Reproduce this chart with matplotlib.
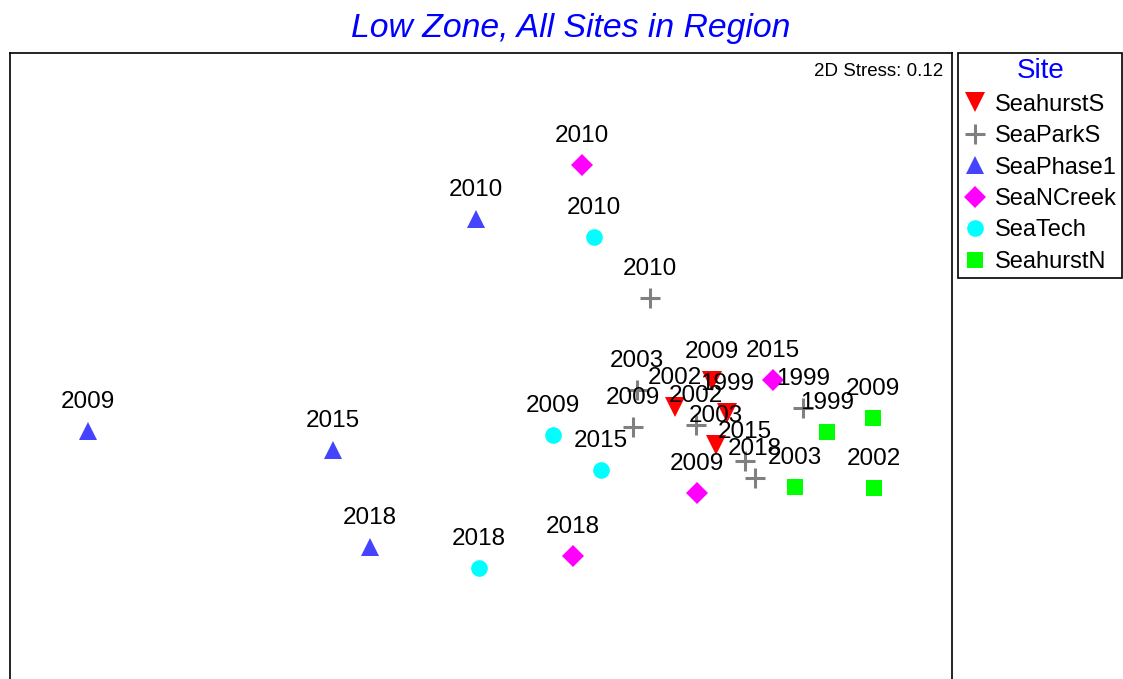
#!/usr/bin/env python3
"""nMDS ordination plot: Low Zone, all sites in region."""

import matplotlib
matplotlib.use("Agg")
import matplotlib.pyplot as plt
from matplotlib.lines import Line2D

plt.rcParams['font.family'] = ['Liberation Sans', 'DejaVu Sans']

W, H = 1123, 679

# MDS coordinates, one set per site
sites = ['SeahurstS', 'SeaParkS', 'SeaPhase1', 'SeaNCreek', 'SeaTech', 'SeahurstN']

seahursts_years = ['1999', '2002', '2003', '2009']
seahursts_x = [1.135, 0.875, 1.080, 1.060]
seahursts_y = [0.035, 0.065, -0.125, 0.195]

seaparks_years = ['1999', '2002', '2003', '2009', '2010', '2015', '2018']
seaparks_x = [1.515, 0.980, 0.685, 0.665, 0.750, 1.225, 1.275]
seaparks_y = [0.060, -0.025, 0.150, -0.035, 0.610, -0.205, -0.290]

seaphase1_years = ['2009', '2010', '2015', '2018']
seaphase1_x = [-2.060, -0.120, -0.835, -0.650]
seaphase1_y = [-0.055, 1.005, -0.150, -0.635]

seancreek_years = ['2009', '2010', '2015', '2018']
seancreek_x = [0.985, 0.410, 1.365, 0.365]
seancreek_y = [-0.365, 1.275, 0.200, -0.680]

seatech_years = ['2009', '2010', '2015', '2018']
seatech_x = [0.265, 0.470, 0.505, -0.105]
seatech_y = [-0.075, 0.915, -0.250, -0.740]

seahurstn_years = ['1999', '2002', '2003', '2009']
seahurstn_x = [1.635, 1.870, 1.475, 1.865]
seahurstn_y = [-0.060, -0.340, -0.335, 0.010]

# marker, colour, size (pt), edge width
styles = {
    'SeahurstS': ('v', '#ff0000', 14.5, 0),
    'SeaParkS': ('+', '#808080', 14.5, 2.2),
    'SeaPhase1': ('^', '#4444ff', 13.5, 0),
    'SeaNCreek': ('D', '#ff00ff', 11.0, 0),
    'SeaTech': ('o', '#00ffff', 12.0, 0),
    'SeahurstN': ('s', '#00ff00', 11.5, 0),
}

data = {
    'SeahurstS': (seahursts_x, seahursts_y, seahursts_years),
    'SeaParkS': (seaparks_x, seaparks_y, seaparks_years),
    'SeaPhase1': (seaphase1_x, seaphase1_y, seaphase1_years),
    'SeaNCreek': (seancreek_x, seancreek_y, seancreek_years),
    'SeaTech': (seatech_x, seatech_y, seatech_years),
    'SeahurstN': (seahurstn_x, seahurstn_y, seahurstn_years),
}


def main():
    fig = plt.figure(figsize=(W / 100, H / 100), dpi=100)
    # plot box runs off the bottom of the image in the reference
    ax = fig.add_axes([10 / W, 1 - 700 / H, 942 / W, 647 / H])
    ax.set_xlim(-2.45, 2.26)
    ax.set_ylim(-1.40, 1.835)
    ax.set_xticks([])
    ax.set_yticks([])
    for sp in ax.spines.values():
        sp.set_linewidth(1.2)

    handles = []
    for site in sites:
        xs, ys, yrs = data[site]
        m, c, ms, mew = styles[site]
        ax.plot(xs, ys, m, color=c, ms=ms, mew=mew, ls='none')
        for x, y, yr in zip(xs, ys, yrs):
            ax.annotate(yr, (x, y), xytext=(0, 21), textcoords='offset points',
                        ha='center', va='center', fontsize=17.5, color='black')
        handles.append(Line2D([], [], marker=m, color=c, ls='none', ms=ms, mew=mew))

    fig.text(571 / W, 1 - 28 / H, 'Low Zone, All Sites in Region',
             ha='center', va='center', fontsize=24.3, style='italic', color='#0000ff')
    fig.text(943 / W, 1 - 72 / H, '2D Stress: 0.12',
             ha='right', va='center', fontsize=13.5)

    leg = fig.legend(handles, sites, loc='upper left',
                     bbox_to_anchor=(958 / W, 1 - 53 / H), bbox_transform=fig.transFigure,
                     frameon=True, fancybox=False, edgecolor='black', framealpha=1,
                     borderaxespad=0, fontsize=17, title='Site', title_fontsize=20,
                     handlelength=1.0, handletextpad=0.36, labelspacing=0.4,
                     borderpad=0.22)
    leg.get_title().set_color('#0000ff')
    leg.get_frame().set_linewidth(1.2)

    fig.savefig('out.png', dpi=100)
    plt.close(fig)


if __name__ == "__main__":
    main()
